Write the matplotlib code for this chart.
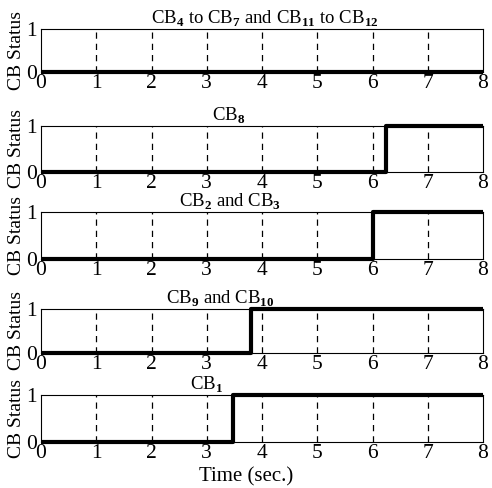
import matplotlib
matplotlib.use('Agg')
import matplotlib.pyplot as plt
import numpy as np

plt.rcParams['font.family'] = 'Liberation Serif'
plt.rcParams['mathtext.fontset'] = 'custom'
plt.rcParams['mathtext.rm'] = 'Liberation Serif'
plt.rcParams['mathtext.bf'] = 'Liberation Serif:bold'

# panel titles and switching times (sec.); None = never switches
titles = [r'CB$_\mathbf{4}$ to CB$_\mathbf{7}$ and CB$_\mathbf{11}$ to CB$_\mathbf{12}$',
          r'CB$_\mathbf{8}$',
          r'CB$_\mathbf{2}$ and CB$_\mathbf{3}$',
          r'CB$_\mathbf{9}$ and CB$_\mathbf{10}$',
          r'CB$_\mathbf{1}$']
t_switch = [None, 6.24, 6.0, 3.8, 3.48]
t_end = 8

# title centres (fraction of axes width), not all centred in the original
title_x = [0.507, 0.425, 0.428, 0.405, 0.375]

# axes positions (pixel rows: top, bottom)
rows = [(29, 72), (126, 172), (212, 259), (309, 353), (395, 442)]
W, H = 492, 488

fig = plt.figure(figsize=(W/100, H/100), dpi=100)

for i in range(5):
    top, bot = rows[i]
    ax = fig.add_axes([41/W, 1-bot/H, 442/W, (bot-top)/H])
    ts = t_switch[i]
    if ts is None:
        t = [0, t_end]
        s = [0, 0]
    else:
        t = [0, ts, ts, t_end]
        s = [0, 0, 1, 1]
    ax.plot(t, s, color='black', linewidth=3, solid_capstyle='butt', clip_on=False, zorder=5)
    for xv in range(1, 8):
        ax.axvline(xv, color='black', linestyle=(0, (5, 4)), linewidth=0.9)
    ax.set_xlim(0, 8)
    ax.set_ylim(0, 1)
    ax.set_xticks(range(9))
    ax.set_yticks([0, 1])
    ax.tick_params(length=0, labelsize=15.5)
    ax.tick_params(axis='x', pad=1.5)
    ax.tick_params(axis='y', pad=3)
    for sp in ax.spines.values():
        sp.set_linewidth(0.8)
    ax.set_title(titles[i], fontsize=13.5, pad=1.5, x=title_x[i])
    ax.set_ylabel('CB Status', fontsize=14, labelpad=1)

fig.text(0.5, 1-477/H, 'Time (sec.)', ha='center', va='center', fontsize=15)

plt.savefig('out.png', dpi=100)
